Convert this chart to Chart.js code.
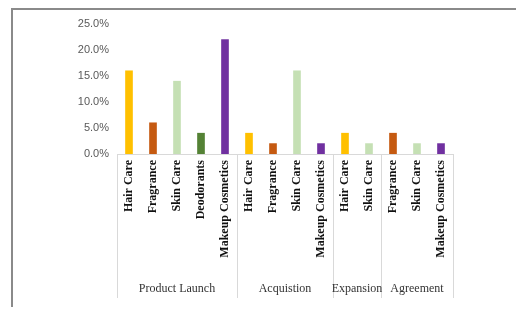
<!DOCTYPE html>
<html lang="en">
<head>
    <meta charset="UTF-8">
    <title>Share by deal type</title>
    <script src="https://cdn.jsdelivr.net/npm/chart.js"></script>
    <style>
        html, body { margin: 0; padding: 0; background: #fff; }
        .wrap { position: relative; width: 516px; height: 309px; overflow: hidden; }
        .frame {
            position: absolute; left: 11px; top: 8px; width: 600px; height: 297px;
            border-left: 2px solid #8a8a8a; border-top: 2px solid #8a8a8a;
        }
        #dealChart { position: absolute; left: 0; top: 0; }
    </style>
</head>
<body>
<div class="wrap">
    <div class="frame"></div>
    <canvas id="dealChart" width="516" height="309"></canvas>
</div>
<script>
    // data
    const groupNames = ['Product Launch', 'Acquistion', 'Expansion', 'Agreement'];
    const groupSizes = [5, 4, 2, 3];
    const categories = [
        'Hair Care', 'Fragrance', 'Skin Care', 'Deodorants', 'Makeup Cosmetics',
        'Hair Care', 'Fragrance', 'Skin Care', 'Makeup Cosmetics',
        'Hair Care', 'Skin Care',
        'Fragrance', 'Skin Care', 'Makeup Cosmetics'
    ];
    const shares = [16, 6, 14, 4, 22, 4, 2, 16, 2, 4, 2, 4, 2, 2];
    const yTicks = [0, 5, 10, 15, 20, 25];

    const productColors = {
        'Hair Care': '#ffc000',
        'Fragrance': '#c55a11',
        'Skin Care': '#c5e0b4',
        'Deodorants': '#548235',
        'Makeup Cosmetics': '#7030a0'
    };

    // group labels + separator lines under the x axis
    const groupAxis = {
        id: 'groupAxis',
        afterDraw(chart) {
            const ctx = chart.ctx;
            const xs = chart.scales.x;
            const slot = (xs.right - xs.left) / categories.length;
            const top = xs.top;
            const bottom = xs.bottom;
            ctx.save();
            ctx.strokeStyle = '#d9d9d9';
            ctx.lineWidth = 1;
            let start = 0;
            const edges = [0];
            groupSizes.forEach(n => { start += n; edges.push(start); });
            edges.forEach(e => {
                const x = Math.round(xs.getPixelForValue(e) - slot / 2) + 0.5;
                ctx.beginPath();
                ctx.moveTo(x, top);
                ctx.lineTo(x, bottom);
                ctx.stroke();
            });
            ctx.fillStyle = '#333';
            ctx.font = '12px "Liberation Serif", "Times New Roman", serif';
            ctx.textAlign = 'center';
            ctx.textBaseline = 'middle';
            for (let g = 0; g < groupNames.length; g++) {
                const a = xs.getPixelForValue(edges[g]) - slot / 2;
                const b = xs.getPixelForValue(edges[g + 1]) - slot / 2;
                ctx.fillText(groupNames[g], (a + b) / 2, bottom - 9);
            }
            ctx.restore();
        }
    };

    new Chart(document.getElementById('dealChart').getContext('2d'), {
        type: 'bar',
        data: {
            labels: categories,
            datasets: [{
                data: shares,
                backgroundColor: categories.map(c => productColors[c]),
                barThickness: 7
            }]
        },
        options: {
            responsive: false,
            animation: false,
            layout: { padding: { left: 0, right: 63, top: 24, bottom: 11 } },
            plugins: { legend: { display: false }, tooltip: { enabled: false } },
            scales: {
                x: {
                    grid: { display: false, drawTicks: false },
                    border: { display: true, color: '#d9d9d9', width: 1 },
                    ticks: {
                        autoSkip: false,
                        minRotation: 90,
                        maxRotation: 90,
                        padding: 6,
                        color: '#111',
                        font: { family: '"Liberation Serif", "Times New Roman", serif', size: 12, weight: 'bold' }
                    },
                    afterFit(scale) { scale.height = 144; }
                },
                y: {
                    min: 0,
                    max: 25,
                    afterBuildTicks(scale) { scale.ticks = yTicks.map(v => ({ value: v })); },
                    grid: { display: false, drawTicks: false },
                    border: { display: false },
                    ticks: {
                        padding: 8,
                        color: '#595959',
                        font: { family: '"Liberation Sans", Arial, sans-serif', size: 11 },
                        callback: v => v.toFixed(1) + '%'
                    },
                    afterFit(scale) { scale.width = 117; }
                }
            }
        },
        plugins: [groupAxis]
    });
</script>
</body>
</html>
